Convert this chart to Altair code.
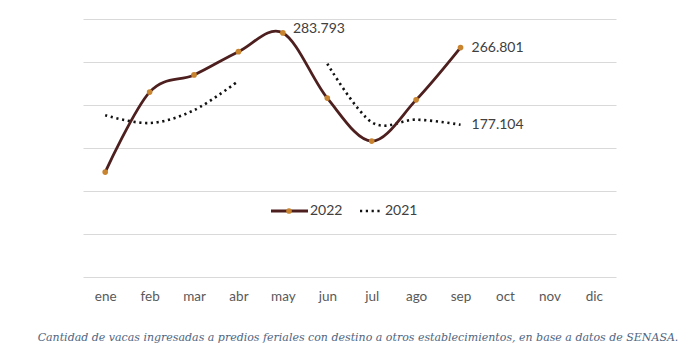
import altair as alt
import pandas as pd

months = ["ene", "feb", "mar", "abr", "may", "jun", "jul", "ago", "sep", "oct", "nov", "dic"]
v2022 = [122, 215, 235, 262, 283.793, 208, 158, 206, 266.801, None, None, None]
v2021 = [188, 179, 194, 228, None, 248, 180, 183, 177.104, None, None, None]
seg2021 = ["a", "a", "a", "a", None, "b", "b", "b", "b", None, None, None]
label_months = ["may", "sep"]
label_values = [283.793, 266.801]
label_texts = ["283.793", "266.801"]
label2021_month = ["sep"]
label2021_value = [177.104]
label2021_text = ["177.104"]
caption = "Cantidad de vacas ingresadas a predios feriales con destino a otros establecimientos, en base a datos de SENASA."

rows22 = [{"mes": m, "valor": v} for m, v in zip(months, v2022) if v is not None]
rows21 = [{"mes": m, "valor": v, "seg": s} for m, v, s in zip(months, v2021, seg2021) if v is not None]
df22 = pd.DataFrame(rows22)
df21 = pd.DataFrame(rows21)
dflab = pd.DataFrame({"mes": label_months, "valor": label_values, "txt": label_texts})
dflab21 = pd.DataFrame({"mes": label2021_month, "valor": label2021_value, "txt": label2021_text})
one = pd.DataFrame({"k": [0]})

W, H = 533, 258
xs = alt.X("mes:N", sort=months, scale=alt.Scale(type="point", domain=months, padding=0.5),
           axis=alt.Axis(title=None, ticks=False, domain=False, grid=False, labelPadding=12,
                         labelFontSize=13.5, labelColor="#595959", labelFont="Lato", labelAngle=0))
ys = alt.Y("valor:Q", scale=alt.Scale(domain=[0, 300], nice=False),
           axis=alt.Axis(title=None, labels=False, ticks=False, domain=False, grid=True,
                         values=[0, 50, 100, 150, 200, 250, 300], gridColor="#d9d9d9", gridWidth=1))

LBL = dict(fontSize=14, font="Lato", color="#404040")

base22 = alt.Chart(df22)
line22 = base22.mark_line(interpolate="cardinal", color="#4E1F1F", strokeWidth=2.8).encode(x=xs, y=ys)
pts22 = base22.mark_circle(color="#C8842E", size=32, opacity=1).encode(x=xs, y=ys)
line21 = alt.Chart(df21).mark_line(interpolate="cardinal", color="#111111", strokeWidth=2.6,
                                   strokeDash=[2.2, 3.6]).encode(x=xs, y=ys, detail="seg:N")

lab_may = alt.Chart(dflab[dflab.mes == "may"]).mark_text(align="left", baseline="middle", dx=10, dy=-4,
                                                         **LBL).encode(x=xs, y=ys, text="txt:N")
lab_sep = alt.Chart(dflab[dflab.mes == "sep"]).mark_text(align="left", baseline="middle", dx=11, dy=0,
                                                         **LBL).encode(x=xs, y=ys, text="txt:N")
lab21 = alt.Chart(dflab21).mark_text(align="left", baseline="middle", dx=11, dy=0,
                                     **LBL).encode(x=xs, y=ys, text="txt:N")

leg_line = alt.Chart(one).mark_rule(color="#4E1F1F", strokeWidth=2.8).encode(
    x=alt.value(188), x2=alt.value(225), y=alt.value(192))
leg_pt = alt.Chart(one).mark_circle(color="#C8842E", size=32, opacity=1).encode(
    x=alt.value(206), y=alt.value(192))
leg_t22 = alt.Chart(one).mark_text(text="2022", align="left", baseline="middle", **LBL).encode(
    x=alt.value(227), y=alt.value(192))
leg_dot = alt.Chart(one).mark_rule(color="#111111", strokeWidth=2.6, strokeDash=[2.2, 3.6]).encode(
    x=alt.value(277), x2=alt.value(300), y=alt.value(192))
leg_t21 = alt.Chart(one).mark_text(text="2021", align="left", baseline="middle", **LBL).encode(
    x=alt.value(302), y=alt.value(192))

cap = alt.Chart(one).mark_text(text=caption, align="center", baseline="middle", fontSize=11,
                               font="DejaVu Serif", fontStyle="italic", color="#4F6580").encode(
    x=alt.value(275), y=alt.value(319))

chart = alt.layer(line21, line22, pts22, lab_may, lab_sep, lab21,
                  leg_line, leg_pt, leg_t22, leg_dot, leg_t21, cap).properties(
    width=W, height=H,
    autosize=alt.AutoSizeParams(type="none"),
    padding={"left": 83, "top": 19, "right": 73, "bottom": 79},
).configure(background="white").configure_view(stroke=None)

chart.save("out.html", embed_options={"renderer": "svg", "actions": False})
